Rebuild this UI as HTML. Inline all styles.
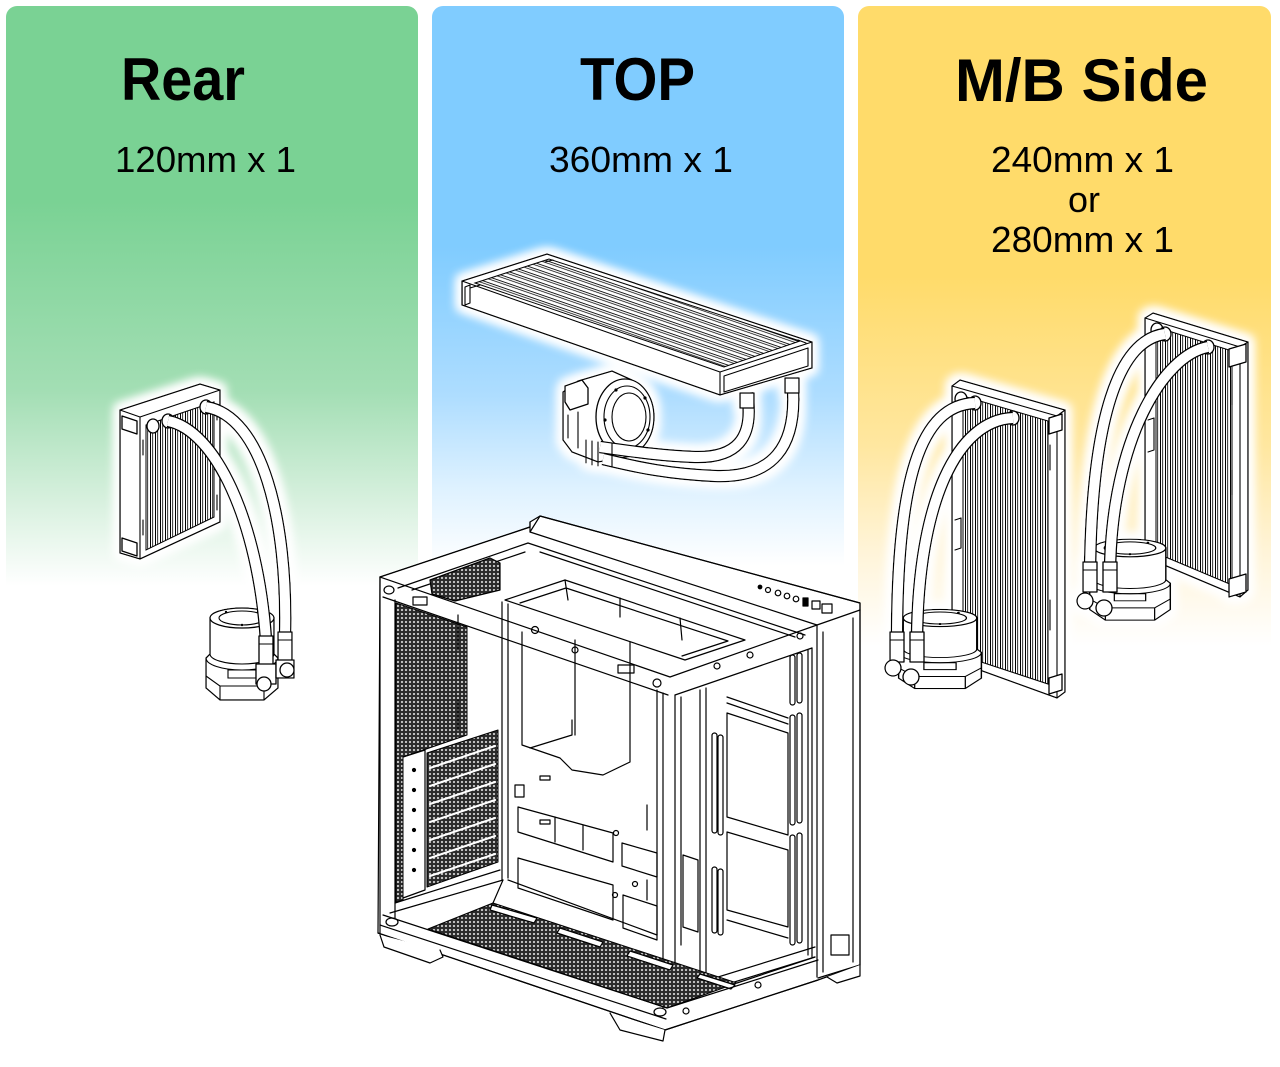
<!DOCTYPE html>
<html><head><meta charset="utf-8">
<style>
html,body{margin:0;padding:0;background:#fff;}
body{width:1280px;height:1067px;position:relative;overflow:hidden;}
.p{position:absolute;top:6px;height:1061px;border-radius:11px 11px 0 0;}
#pg{left:6px;width:412px;background:linear-gradient(180deg,#7AD294 0px,#7AD294 195px,#A3DEB4 385px,#DCF2E2 505px,#FFFFFF 580px);}
#pb{left:432px;width:412px;background:linear-gradient(180deg,#80CCFF 0px,#80CCFF 240px,#AEDDFF 390px,#DDF1FF 480px,#FFFFFF 560px);}
#py{left:858px;width:413px;background:linear-gradient(180deg,#FFDB6A 0px,#FFDB6A 270px,#FFE7A0 440px,#FFF4D8 545px,#FFFFFF 640px);}
svg{position:absolute;left:0;top:0;}
.t{font-family:"Liberation Sans",Arial,sans-serif;font-weight:bold;font-size:60px;fill:#000;}
.s{font-family:"Liberation Sans",Arial,sans-serif;font-size:36px;fill:#000;}
.l{fill:#fff;stroke:#000;stroke-width:1.3;stroke-linejoin:round;}
.n{fill:none;stroke:#000;stroke-width:1.1;stroke-linejoin:round;stroke-linecap:round;}
.tb{fill:none;stroke:#000;stroke-width:12.5;stroke-linecap:butt;}
.tw{fill:none;stroke:#fff;stroke-width:10;stroke-linecap:butt;}
</style></head>
<body>
<div class="p" id="pg"></div>
<div class="p" id="pb"></div>
<div class="p" id="py"></div>
<svg width="1280" height="1067" viewBox="0 0 1280 1067" xmlns="http://www.w3.org/2000/svg">
<defs>
 <filter id="glow" filterUnits="userSpaceOnUse" x="0" y="0" width="1280" height="1067">
  <feMorphology in="SourceAlpha" operator="dilate" radius="4" result="d"/>
  <feGaussianBlur in="d" stdDeviation="5" result="b"/>
  <feFlood flood-color="#ffffff" result="w"/>
  <feComposite in="w" in2="b" operator="in" result="g"/>
  <feMerge><feMergeNode in="g"/><feMergeNode in="g"/><feMergeNode in="SourceGraphic"/></feMerge>
 </filter>
 <pattern id="finsV" width="5" height="10" patternUnits="userSpaceOnUse">
  <rect width="5" height="10" fill="#fff"/><rect x="0" width="1" height="10" fill="#000"/><rect x="2.3" width="0.8" height="10" fill="#000"/>
 </pattern>
 <pattern id="finsT" width="10" height="6" patternUnits="userSpaceOnUse" patternTransform="skewY(19)">
  <rect width="10" height="6" fill="#fff"/><rect y="0" width="10" height="0.9" fill="#000"/><rect y="2.3" width="10" height="0.8" fill="#000"/>
 </pattern>
 <pattern id="mesh" width="4" height="4" patternUnits="userSpaceOnUse">
  <rect width="4" height="4" fill="#2a2a2a"/><circle cx="2" cy="2" r="1.15" fill="#c8c8c8"/>
 </pattern>
 <g id="pump">
  <path d="M-36,40 L-32,36 V0 H32 V36 L36,40 V70 L22,82 H-22 L-36,70 Z" fill="#fff" stroke="#000" stroke-width="1.3" stroke-linejoin="round"/>
  <path d="M-32,36 A32,10 0 0 0 32,36" fill="none" stroke="#000" stroke-width="1.1"/>
  <path d="M-36,40 A36,12 0 0 0 36,40" fill="none" stroke="#000" stroke-width="1.1"/>
  <ellipse cx="0" cy="0" rx="32" ry="10" fill="#fff" stroke="#000" stroke-width="1.3"/>
  <ellipse cx="0" cy="0" rx="23" ry="7" fill="none" stroke="#000" stroke-width="1.1"/>
  <path d="M-22,82 V68 L-36,58 M22,82 V68 L36,58 M-22,68 H22 M-14,60 H14 V52 H-14 Z" fill="none" stroke="#000" stroke-width="1.1"/>
  <circle cx="-16" cy="-6" r="1.2" fill="#000"/><circle cx="16" cy="-6" r="1.2" fill="#000"/><circle cx="0" cy="7" r="1.2" fill="#000"/>
 </g>
</defs>

<!-- ===== TEXT ===== -->
<text class="t" x="121" y="100" textLength="124" lengthAdjust="spacingAndGlyphs">Rear</text>
<text class="t" x="580" y="100" textLength="115" lengthAdjust="spacingAndGlyphs">TOP</text>
<text class="t" x="955" y="101" textLength="253" lengthAdjust="spacingAndGlyphs">M/B Side</text>
<text class="s" x="115" y="172" textLength="181" lengthAdjust="spacingAndGlyphs">120mm x 1</text>
<text class="s" x="549" y="172" textLength="184" lengthAdjust="spacingAndGlyphs">360mm x 1</text>
<text class="s" x="991" y="172" textLength="183" lengthAdjust="spacingAndGlyphs">240mm x 1</text>
<text class="s" x="1068" y="212" textLength="32" lengthAdjust="spacingAndGlyphs">or</text>
<text class="s" x="991" y="252" textLength="183" lengthAdjust="spacingAndGlyphs">280mm x 1</text>

<!-- ===== REAR 120mm ===== -->
<g filter="url(#glow)">
 <polygon class="l" points="120,410 200,384 220,390 220,522 140,559 120,553"/>
 <polygon points="146,425 214,402 214,517 146,550" fill="url(#finsV)" stroke="#000" stroke-width="1"/>
 <path class="n" d="M120,410 L140,417 L220,390 M140,417 V559"/>
 <path class="l" d="M122,416 L137,421 V434 L122,429 Z M122,538 L137,543 V556 L122,551 Z"/>
 <path class="n" d="M143,440 V455 M143,520 V535 M217,405 V420 M217,495 V510"/>
 <ellipse class="l" cx="153" cy="426" rx="6" ry="7"/>
 <ellipse class="l" cx="168" cy="421" rx="6" ry="7"/>
 <ellipse class="l" cx="206" cy="407" rx="6" ry="7"/>
 <use href="#pump" transform="translate(242,618)"/>
 <path class="tb" d="M168,421 C215,430 258,520 266,640"/>
 <path class="tw" d="M168,421 C215,430 258,520 266,640"/>
 <path class="tb" d="M206,407 C262,416 288,520 285,636"/>
 <path class="tw" d="M206,407 C262,416 288,520 285,636"/>
 <rect class="l" x="259" y="636" width="14" height="30"/>
 <rect class="l" x="278" y="632" width="14" height="30"/>
 <path class="n" d="M259,644 H273 M278,640 H292"/>
 <rect class="l" x="256" y="664" width="20" height="20"/>
 <rect class="l" x="276" y="660" width="18" height="18"/>
 <circle class="l" cx="264" cy="684" r="7"/>
 <circle class="l" cx="287" cy="670" r="7"/>
</g>

<!-- ===== TOP 360mm ===== -->
<g filter="url(#glow)">
 <polygon class="l" points="462,281 547,254 812,342 812,368 720,395 462,305"/>
 <polygon points="475,283 549,259 800,341 724,367" fill="url(#finsT)" stroke="#000" stroke-width="1"/>
 <path class="n" d="M462,281 L720,372 L812,342 M720,372 V395 M462,281 V305"/>
 <path class="n" d="M465,287 L470,285 V303 L465,305 Z M724,376 L808,348 V366 L724,392 Z"/>
 <path class="n" d="M470,288 L480,285 M545,262 L553,260 M798,340 L806,343"/>
 <!-- pump -->
 <path class="l" d="M563,392 L578,381 L612,371 L632,380 L632,456 L598,462 L572,452 L563,440 Z"/>
 <path class="l" d="M565,386 L582,380 L588,388 L588,404 L570,410 L565,402 Z"/>
 <path class="n" d="M568,415 V438 M578,412 V448"/>
 <ellipse class="l" cx="625" cy="417" rx="29" ry="38"/>
 <ellipse class="n" cx="627" cy="417" rx="23" ry="31"/>
 <ellipse class="n" cx="629" cy="417" rx="17" ry="24"/>
 <circle cx="616" cy="390" r="1.6" fill="#000"/><circle cx="645" cy="398" r="1.6" fill="#000"/><circle cx="648" cy="430" r="1.6" fill="#000"/><circle cx="622" cy="447" r="1.6" fill="#000"/><circle cx="605" cy="420" r="1.6" fill="#000"/>
 <path class="tb" d="M747,393 C755,440 735,458 695,457 C665,456 635,452 600,447"/>
 <path class="tw" d="M747,393 C755,440 735,458 695,457 C665,456 635,452 600,447"/>
 <path class="tb" d="M792,378 C800,450 770,478 715,476 C670,474 640,468 603,459"/>
 <path class="tw" d="M792,378 C800,450 770,478 715,476 C670,474 640,468 603,459"/>
 <path class="l" d="M740,393 H754 V408 H740 Z M785,378 H799 V393 H785 Z"/>
 <path class="n" d="M586,440 V463 M592,441 V465 M598,442 V466 M612,443 V467"/>
</g>

<!-- ===== M/B SIDE ===== -->
<g filter="url(#glow)">
 <!-- radiator 240 -->
 <polygon class="l" points="952,386 960,380 1065,410 1065,692 1057,698 952,660"/>
 <polygon points="963,396 1048,421 1048,684 963,656" fill="url(#finsV)" stroke="#000" stroke-width="1"/>
 <path class="n" d="M952,386 L1057,416 L1065,410 M1057,416 V698"/>
 <path class="l" d="M1049,418 L1062,414 V430 L1049,434 Z M1049,678 L1062,674 V690 L1049,694 Z"/>
 <path class="n" d="M955,520 L961,518 V548 L955,550 M1050,445 V470 M1050,600 V630"/>
 <ellipse class="l" cx="961" cy="399" rx="6" ry="7"/>
 <ellipse class="l" cx="975" cy="403" rx="6" ry="7"/>
 <ellipse class="l" cx="1013" cy="418" rx="6" ry="7"/>
 <use href="#pump" transform="translate(940,618) scale(1.15,0.86)"/>
 <path class="tb" d="M975,403 C920,405 897,480 897,640"/>
 <path class="tw" d="M975,403 C920,405 897,480 897,640"/>
 <path class="tb" d="M1013,418 C958,420 918,500 917,640"/>
 <path class="tw" d="M1013,418 C958,420 918,500 917,640"/>
 <rect class="l" x="890" y="632" width="14" height="30"/>
 <rect class="l" x="910" y="632" width="14" height="30"/>
 <path class="n" d="M890,640 H904 M910,640 H924"/>
 <circle class="l" cx="893" cy="668" r="8"/>
 <circle class="l" cx="911" cy="677" r="8"/>
 <!-- radiator 280 -->
 <polygon class="l" points="1145,318 1153,313 1248,342 1248,590 1240,597 1145,557"/>
 <polygon points="1156,327 1232,351 1232,585 1156,553" fill="url(#finsV)" stroke="#000" stroke-width="1"/>
 <path class="n" d="M1145,318 L1240,347 L1248,342 M1240,347 V597"/>
 <path class="l" d="M1229,349 L1246,344 V362 L1229,367 Z M1229,579 L1246,574 V592 L1229,597 Z"/>
 <path class="n" d="M1148,420 L1154,418 V450 L1148,452 M1232,380 V405 M1232,470 V495"/>
 <ellipse class="l" cx="1157" cy="330" rx="6" ry="7"/>
 <ellipse class="l" cx="1165" cy="334" rx="6" ry="7"/>
 <ellipse class="l" cx="1208" cy="347" rx="6" ry="7"/>
 <use href="#pump" transform="translate(1130,548) scale(1.12,0.88)"/>
 <path class="tb" d="M1165,334 C1118,340 1092,420 1090,570"/>
 <path class="tw" d="M1165,334 C1118,340 1092,420 1090,570"/>
 <path class="tb" d="M1208,347 C1163,355 1112,440 1110,570"/>
 <path class="tw" d="M1208,347 C1163,355 1112,440 1110,570"/>
 <rect class="l" x="1083" y="562" width="14" height="30"/>
 <rect class="l" x="1103" y="562" width="14" height="30"/>
 <path class="n" d="M1083,570 H1097 M1103,570 H1117"/>
 <circle class="l" cx="1085" cy="601" r="8"/>
 <circle class="l" cx="1104" cy="608" r="8"/>
</g>

<!-- ===== CASE ===== -->
<g stroke="#000" stroke-width="1.2" fill="none" stroke-linejoin="round" stroke-linecap="round">
 <path fill="#fff" d="M380,577 L530,527 L530,522 L540,516 L860,603 L860,965 L818,980 L665,1030 L378,933 Z"/>
 <!-- top -->
 <path d="M380,577 L530,527 M530,522 V532 L540,516 M540,516 L860,603 V610"/>
 <path d="M530,532 L817,625 L860,610"/>
 <path d="M380,577 L670,677 L817,625"/>
 <path d="M383,597 L668,695 M675,695 L812,648"/>
 <path d="M398,588 L528,543 L805,635"/>
 <path d="M412,590 L525,552 M540,552 L795,637"/>
 <path d="M505,600 L565,580 L745,640 L685,660 Z"/>
 <path d="M520,603 L566,588 L728,641 L682,656"/>
 <path d="M565,580 L568,600 M620,598 L620,617 M680,618 L682,640"/>
 <path fill="url(#mesh)" d="M430,580 L490,558 L500,563 L500,590 L455,601 L432,594 Z"/>
 <!-- top buttons -->
 <circle cx="760" cy="587" r="1.8" fill="#000"/><circle cx="768" cy="590" r="2.5"/><circle cx="778" cy="593" r="2.8"/><circle cx="787" cy="596" r="2.8"/><circle cx="796" cy="599" r="2.8"/>
 <rect x="803" y="598" width="5" height="8" fill="#000"/><rect x="812" y="601" width="8" height="8"/><rect x="822" y="604" width="10" height="9"/>
 <!-- front bar holes -->
 <circle cx="575" cy="650" r="3"/><circle cx="535" cy="630" r="3.5"/><circle cx="657" cy="683" r="4"/><circle cx="717" cy="666" r="3"/><circle cx="750" cy="655" r="3"/><circle cx="800" cy="636" r="3"/>
 <rect x="413" y="597" width="14" height="8"/><rect x="618" y="665" width="16" height="8"/>
 <ellipse cx="389" cy="590" rx="5" ry="4"/>
 <!-- rear panel (left face) -->
 <path d="M380,577 V933 M395,600 V918"/>
 <path fill="url(#mesh)" stroke-width="1" d="M396,603 L467,627 L467,735 L403,757 L403,900 L396,902 Z"/>
 <path d="M458,615 V650 M458,700 V730"/>
 <path fill="url(#mesh)" stroke-width="1" d="M427,753 L498,730 L498,862 L427,887 Z"/>
 <g stroke="#fff" stroke-width="2.2">
  <path d="M430,768 L495,746 M430,786 L495,764 M430,804 L495,782 M430,822 L495,800 M430,840 L495,818 M430,858 L495,836 M430,876 L495,854"/>
 </g>
 <path d="M403,757 L425,750 V890 L403,898"/>
 <circle cx="414" cy="770" r="1.5" fill="#000"/><circle cx="414" cy="790" r="1.5" fill="#000"/><circle cx="414" cy="810" r="1.5" fill="#000"/><circle cx="414" cy="830" r="1.5" fill="#000"/><circle cx="414" cy="850" r="1.5" fill="#000"/><circle cx="414" cy="870" r="1.5" fill="#000"/>
 <path d="M502,602 V880 M508,604 V878"/>
 <path d="M390,913 L503,880 M395,903 L500,870"/>
 <!-- tray -->
 <path d="M508,880 L657,935"/>
 <path d="M522,632 V745 L560,758 L572,770 L603,775 L630,762 V642"/>
 <path d="M530,748 L572,735 L572,720 M575,640 V735"/>
 <path d="M518,807 L613,833 V862 L518,832 Z M555,817 V842 M583,825 V850"/>
 <path d="M518,858 L613,885 V920 L518,888 Z"/>
 <rect x="515" y="785" width="9" height="12"/><rect x="540" y="776" width="10" height="4"/><rect x="540" y="820" width="10" height="4"/>
 <path d="M622,843 L657,853 V877 L622,866 Z M623,895 L657,906 V940 L623,928 Z"/>
 <path d="M647,805 V830 M647,880 V900"/>
 <circle cx="616" cy="833" r="2.5"/><circle cx="635" cy="884" r="2.5"/><circle cx="615" cy="895" r="2.5"/>
 <!-- PSU / cable column -->
 <path d="M657,690 V935 M663,693 V1008 M675,695 V1005 M681,697 V945"/>
 <path d="M683,855 L698,860 V932 L683,927 Z"/>
 <!-- right area -->
 <path d="M700,690 V985 M706,688 V983"/>
 <rect x="712" y="733" width="5" height="100" rx="2.5"/><rect x="718" y="735" width="5" height="100" rx="2.5"/>
 <rect x="712" y="867" width="5" height="66" rx="2.5"/><rect x="718" y="869" width="5" height="66" rx="2.5"/>
 <path d="M727,697 L788,718 M727,703 L788,724"/>
 <path d="M727,713 L788,733 V835 L727,817 Z"/>
 <path d="M727,832 L788,850 V927 L727,910 Z"/>
 <path d="M727,920 L788,938"/>
 <rect x="790" y="655" width="5" height="50" rx="2.5"/><rect x="797" y="653" width="5" height="50" rx="2.5"/>
 <rect x="790" y="715" width="5" height="110" rx="2.5"/><rect x="797" y="713" width="5" height="110" rx="2.5"/>
 <rect x="790" y="835" width="5" height="110" rx="2.5"/><rect x="797" y="833" width="5" height="110" rx="2.5"/>
 <path d="M808,650 V955 M812,648 V957"/>
 <path d="M676,1000 L815,957 M676,990 L815,947"/>
 <!-- right front block -->
 <path d="M817,625 V977 M860,610 V965 L818,978"/>
 <path d="M823,632 V972 M853,618 V962"/>
 <rect x="831" y="935" width="18" height="20"/>
 <!-- bottom -->
 <path fill="url(#mesh)" stroke-width="1" d="M428,929 L493,903 L737,983 L667,1008 Z"/>
 <path fill="#fff" d="M492,905 L537,918 L534,923 L490,910 Z M560,928 L603,942 L600,947 L557,933 Z M630,951 L673,965 L670,970 L627,956 Z M700,974 L735,985 L731,989 L697,978 Z"/>
 <path d="M383,915 L667,1008 L818,960"/>
 <path d="M378,933 L665,1030 L818,980"/>
 <path d="M380,925 L666,1019"/>
 <path d="M493,903 L503,880 M737,983 L815,957"/>
 <ellipse cx="392" cy="922" rx="6" ry="4"/><ellipse cx="660" cy="1012" rx="6" ry="4"/>
 <circle cx="686" cy="1011" r="3"/><circle cx="758" cy="985" r="3"/>
 <!-- feet -->
 <path fill="#fff" d="M380,935 L384,947 L430,963 L443,957 L440,950"/>
 <path fill="#fff" d="M610,1013 L620,1030 L663,1041 L665,1030"/>
 <path fill="#fff" d="M827,977 L837,983 L860,976 V965"/>
</g>
</svg>
</body></html>
